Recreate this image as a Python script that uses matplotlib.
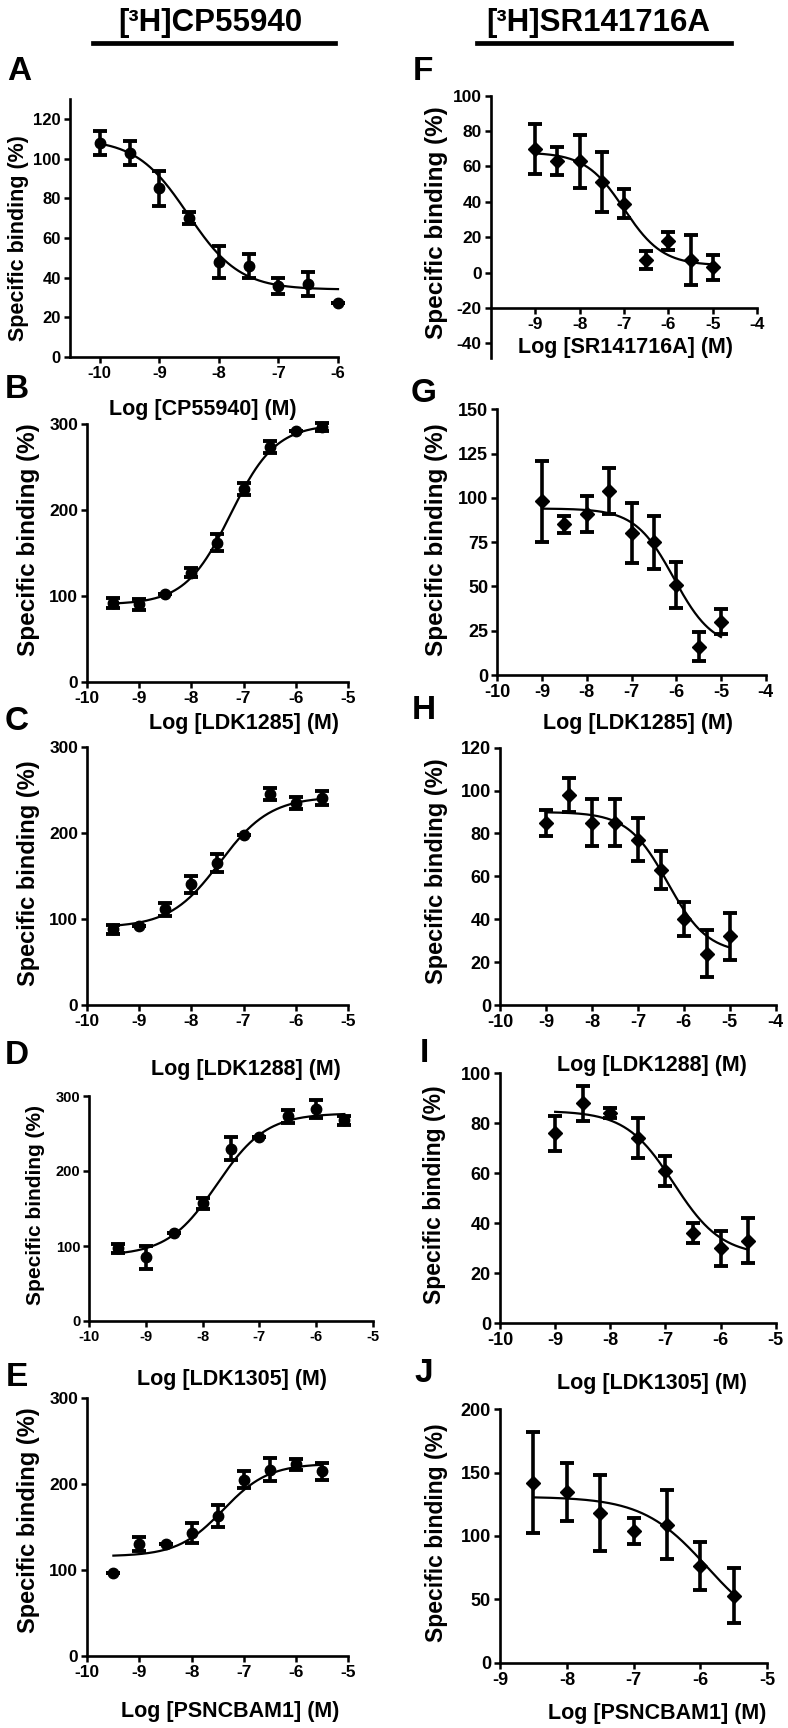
import numpy as np
import matplotlib
matplotlib.use("Agg")
import matplotlib.pyplot as plt
from matplotlib.lines import Line2D

plt.rcParams['font.family'] = ['Liberation Sans', 'DejaVu Sans']
plt.rcParams['font.weight'] = 'bold'
plt.rcParams['axes.unicode_minus'] = False

W, H = 788, 1728

# ---------------- data ----------------
a_x = [-10, -9.5, -9, -8.5, -8, -7.5, -7, -6.5, -6]
a_y = [108, 103, 85, 70, 48, 46, 36, 37, 27]
a_err = [6, 6, 9, 3, 8, 6, 4, 6, 0]
a_fit = [110, 34, -8.52, -1.0]   # top, bottom, logEC50, hill

b_x = [-9.5, -9, -8.5, -8, -7.5, -7, -6.5, -6, -5.5]
b_y = [92, 90, 102, 127, 162, 225, 273, 292, 297]
b_err = [6, 6, 0, 5, 10, 7, 7, 0, 5]
b_fit = [300, 90, -7.25, 1.0]

c_x = [-9.5, -9, -8.5, -8, -7.5, -7, -6.5, -6, -5.5]
c_y = [88, 92, 111, 140, 165, 197, 245, 235, 240]
c_err = [5, 0, 8, 10, 10, 0, 7, 7, 8]
c_fit = [242, 90, -7.45, 0.9]

d_x = [-9.5, -9, -8.5, -8, -7.5, -7, -6.5, -6, -5.5]
d_y = [97, 85, 118, 157, 230, 245, 273, 283, 268]
d_err = [6, 15, 0, 7, 15, 0, 9, 12, 6]
d_fit = [277, 87, -7.75, 1.0]

e_x = [-9.5, -9, -8.5, -8, -7.5, -7, -6.5, -6, -5.5]
e_y = [97, 130, 130, 143, 163, 205, 217, 223, 215]
e_err = [0, 8, 0, 12, 13, 10, 13, 6, 10]
e_fit = [224, 116, -7.4, 1.0]

f_x = [-9, -8.5, -8, -7.5, -7, -6.5, -6, -5.5, -5]
f_y = [70, 63, 63, 51, 39, 7, 18, 7, 3]
f_err = [14, 8, 15, 17, 8, 5, 5, 14, 7]
f_fit = [68, 4, -7.0, -1.0]

g_x = [-9, -8.5, -8, -7.5, -7, -6.5, -6, -5.5, -5]
g_y = [98, 85, 91, 104, 80, 75, 51, 16, 30]
g_err = [23, 5, 10, 13, 17, 15, 13, 8, 7]
g_fit = [94, 15, -6.05, -1.0]

h_x = [-9, -8.5, -8, -7.5, -7, -6.5, -6, -5.5, -5]
h_y = [85, 98, 85, 85, 77, 63, 40, 24, 32]
h_err = [6, 8, 11, 11, 10, 9, 8, 11, 11]
h_fit = [90, 24, -6.35, -1.0]

i_x = [-9, -8.5, -8, -7.5, -7, -6.5, -6, -5.5]
i_y = [76, 88, 84, 74, 61, 36, 30, 33]
i_err = [7, 7, 2, 8, 6, 4, 7, 9]
i_fit = [85, 27, -6.85, -1.0]

j_x = [-8.5, -8, -7.5, -7, -6.5, -6, -5.5]
j_y = [142, 135, 118, 104, 109, 76, 53]
j_err = [40, 23, 30, 10, 27, 19, 22]
j_fit = [131, 20, -5.9, -0.9]

titles = ["[³H]CP55940", "[³H]SR141716A"]
letters = ["A", "B", "C", "D", "E", "F", "G", "H", "I", "J"]
xlabels = ["Log [CP55940] (M)", "Log [LDK1285] (M)", "Log [LDK1288] (M)",
           "Log [LDK1305] (M)", "Log [PSNCBAM1] (M)",
           "Log [SR141716A] (M)", "Log [LDK1285] (M)", "Log [LDK1288] (M)",
           "Log [LDK1305] (M)", "Log [PSNCBAM1] (M)"]
ylabel = "Specific binding (%)"

# ---------------- layout (pixel boxes) ----------------
panels = [
    dict(x=a_x, y=a_y, e=a_err, fit=a_fit, box=(70, 338, 99.2, 357), xlim=(-10.5, -6), ylim=(0, 130),
         xt=[-10, -9, -8, -7, -6], yt=[0, 20, 40, 60, 80, 100, 120], cr=(-10, -6), m='o', ts=12, ls=15.5,
         lab=(19, 72), xl=(203, 410), yl=(19, 238)),
    dict(x=b_x, y=b_y, e=b_err, fit=b_fit, box=(87.3, 347.7, 424.3, 681.7), xlim=(-10, -5), ylim=(0, 300),
         xt=[-10, -9, -8, -7, -6, -5], yt=[0, 100, 200, 300], cr=(-9.5, -5.5), m='o', ts=12.5, ls=17.5,
         lab=(17, 390), xl=(244, 723), yl=(28, 540)),
    dict(x=c_x, y=c_y, e=c_err, fit=c_fit, box=(87.3, 347.7, 746.7, 1005), xlim=(-10, -5), ylim=(0, 300),
         xt=[-10, -9, -8, -7, -6, -5], yt=[0, 100, 200, 300], cr=(-9.5, -5.5), m='o', ts=12.5, ls=17,
         lab=(17, 722), xl=(246, 1070), yl=(28, 873)),
    dict(x=d_x, y=d_y, e=d_err, fit=d_fit, box=(89.3, 372.7, 1096, 1321), xlim=(-10, -5), ylim=(0, 300),
         xt=[-10, -9, -8, -7, -6, -5], yt=[0, 100, 200, 300], cr=(-9.5, -5.5), m='o', ts=10.5, ls=15,
         lab=(17, 1055), xl=(232, 1380), yl=(36, 1205)),
    dict(x=e_x, y=e_y, e=e_err, fit=e_fit, box=(87.3, 348.3, 1398.3, 1656), xlim=(-10, -5), ylim=(0, 300),
         xt=[-10, -9, -8, -7, -6, -5], yt=[0, 100, 200, 300], cr=(-9.5, -5.5), m='o', ts=12.5, ls=17,
         lab=(17, 1377), xl=(230, 1712), yl=(28, 1520)),
    dict(x=f_x, y=f_y, e=f_err, fit=f_fit, box=(490.7, 757.3, 95.7, 357.5), xlim=(-10, -4), ylim=(-48, 100),
         xt=[-9, -8, -7, -6, -5, -4], yt=[-40, -20, 0, 20, 40, 60, 80, 100], cr=(-9, -5), m='D', ts=12.5, ls=17.5,
         lab=(423, 72), xl=(626, 348), yl=(436, 223), xaxis_at=-20),
    dict(x=g_x, y=g_y, e=g_err, fit=g_fit, box=(497.3, 765.7, 409.3, 675), xlim=(-10, -4), ylim=(0, 150),
         xt=[-10, -9, -8, -7, -6, -5, -4], yt=[0, 25, 50, 75, 100, 125, 150], cr=(-9, -5), m='D', ts=13, ls=17.5,
         lab=(424, 393), xl=(638, 723), yl=(437, 540)),
    dict(x=h_x, y=h_y, e=h_err, fit=h_fit, box=(500, 775.7, 747.7, 1005), xlim=(-10, -4), ylim=(0, 120),
         xt=[-10, -9, -8, -7, -6, -5, -4], yt=[0, 20, 40, 60, 80, 100, 120], cr=(-9, -5), m='D', ts=13, ls=17,
         lab=(424, 711), xl=(652, 1065), yl=(436, 871)),
    dict(x=i_x, y=i_y, e=i_err, fit=i_fit, box=(500, 775.7, 1073.3, 1323.3), xlim=(-10, -5), ylim=(0, 100),
         xt=[-10, -9, -8, -7, -6, -5], yt=[0, 20, 40, 60, 80, 100], cr=(-9, -5.5), m='D', ts=13, ls=16.5,
         lab=(424, 1053), xl=(652, 1383), yl=(434, 1195)),
    dict(x=j_x, y=j_y, e=j_err, fit=j_fit, box=(500, 767.3, 1409.3, 1662.7), xlim=(-9, -5), ylim=(0, 200),
         xt=[-9, -8, -7, -6, -5], yt=[0, 50, 100, 150, 200], cr=(-8.5, -5.5), m='D', ts=13, ls=16.5,
         lab=(424, 1373), xl=(657, 1713), yl=(436, 1533)),
]

fig = plt.figure(figsize=(W / 100, H / 100), dpi=100)
fig.patch.set_facecolor('white')


def fx(px):
    return px / W


def fy(py):
    return 1 - py / H


def sigmoid(xx, p):
    top, bottom, logec, hill = p
    return bottom + (top - bottom) / (1 + 10 ** ((logec - xx) * hill))


for k, p in enumerate(panels):
    l, r, t, b = p['box']
    ax = fig.add_axes([fx(l), fy(b), (r - l) / W, (b - t) / H])
    ax.set_xlim(*p['xlim'])
    ax.set_ylim(*p['ylim'])
    ax.patch.set_alpha(0)
    for s in ['top', 'right']:
        ax.spines[s].set_visible(False)
    for s in ['left', 'bottom']:
        ax.spines[s].set_linewidth(1.9)
    if 'xaxis_at' in p:
        ax.spines['bottom'].set_position(('data', p['xaxis_at']))
    ax.set_xticks(p['xt'])
    ax.set_yticks(p['yt'])
    ax.tick_params(axis='both', direction='out', length=4.5, width=1.8,
                   labelsize=p['ts'], pad=2)
    for lab in ax.get_xticklabels() + ax.get_yticklabels():
        lab.set_fontweight('bold')
    # fitted curve
    xs = np.linspace(p['cr'][0], p['cr'][1], 200)
    ax.plot(xs, sigmoid(xs, p['fit']), color='black', lw=1.6, clip_on=False, zorder=2)
    # data
    ax.errorbar(p['x'], p['y'], yerr=p['e'], fmt=p['m'], color='black',
                ms=7.5 if p['m'] == 'o' else 7, elinewidth=2.6, capsize=5, capthick=2.8,
                clip_on=False, zorder=3)
    # labels
    fig.text(fx(p['xl'][0]), fy(p['xl'][1]), xlabels[k], ha='center', va='center',
             fontsize=15.5, fontweight='bold')
    fig.text(fx(p['yl'][0]), fy(p['yl'][1]), ylabel, ha='center', va='center',
             rotation=90, fontsize=p['ls'], fontweight='bold')
    fig.text(fx(p['lab'][0]), fy(p['lab'][1]), letters[k], ha='center', va='center',
             fontsize=24, fontweight='bold')

# column titles with underline
fig.text(fx(210), fy(23), titles[0], ha='center', va='center', fontsize=22.5, fontweight='bold')
fig.text(fx(598), fy(23), titles[1], ha='center', va='center', fontsize=22.5, fontweight='bold')
fig.add_artist(Line2D([fx(93), fx(335)], [fy(43), fy(43)], color='black', lw=3.4))
fig.add_artist(Line2D([fx(477), fx(731)], [fy(43), fy(43)], color='black', lw=3.4))

fig.savefig('out.png', dpi=100, facecolor='white')
